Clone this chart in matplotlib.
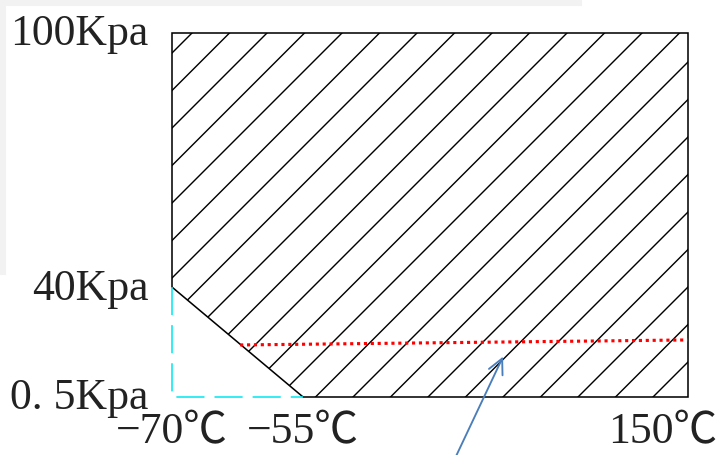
import numpy as np
import matplotlib.pyplot as plt
import matplotlib.transforms as mtransforms
from matplotlib.patches import Polygon, Rectangle

plt.rcParams['font.family'] = ['Liberation Serif', 'Noto Sans CJK JP', 'DejaVu Serif']
plt.rcParams['hatch.linewidth'] = 0.45
plt.rcParams['lines.scale_dashes'] = False

# schematic axes: tick values and their labels
temp_ticks = [-70, -55, 150]
temp_labels = ['\u221270\u2103', '\u221255\u2103', '150\u2103']
press_ticks = [0.5, 40, 100]
press_labels = ['0. 5Kpa', '40Kpa', '100Kpa']

# operating region boundary (temperature, pressure)
region_temp = [-70, 150, 150, -55, -70]
region_press = [100, 100, 0.5, 0.5, 40]

# cyan dashed corner (excluded region)
corner_temp = [-70, -70, -55]
corner_press = [40, 0.5, 0.5]

# red dotted level line
level_temp = [-62.2, 150]
level_press = [19.2, 21.0]

# arrow tip
arrow_temp = 51.5
arrow_press = 15.0

# where the ticks sit along each (non-linear) axis, as fractions
temp_frac = [0.0, 0.254, 1.0]
press_frac = [0.0, 0.302, 1.0]


def piecewise(vals, fracs):
    vals = np.asarray(vals, float)
    fracs = np.asarray(fracs, float)
    lo = (fracs[1] - fracs[0]) / (vals[1] - vals[0])
    hi = (fracs[-1] - fracs[-2]) / (vals[-1] - vals[-2])

    def fwd(v):
        v = np.asarray(v, float)
        out = np.interp(v, vals, fracs)
        out = np.where(v < vals[0], fracs[0] + (v - vals[0]) * lo, out)
        out = np.where(v > vals[-1], fracs[-1] + (v - vals[-1]) * hi, out)
        return out

    def inv(f):
        f = np.asarray(f, float)
        out = np.interp(f, fracs, vals)
        out = np.where(f < fracs[0], vals[0] + (f - fracs[0]) / lo, out)
        out = np.where(f > fracs[-1], vals[-1] + (f - fracs[-1]) / hi, out)
        return out

    return fwd, inv


dpi = 225
fig = plt.figure(figsize=(719 / dpi, 455 / dpi), dpi=dpi)
fig.patches.append(Rectangle((0, 1 - 4 / 455), 580 / 719, 4 / 455, transform=fig.transFigure,
                             color='#f2f2f2', zorder=0))
fig.patches.append(Rectangle((0, 1 - 273 / 455), 4 / 719, 273 / 455, transform=fig.transFigure,
                             color='#f2f2f2', zorder=0))

ax = fig.add_axes([172 / 719, 1 - 397 / 455, 516 / 719, 364 / 455])
ax.set_xscale('function', functions=piecewise(temp_ticks, temp_frac))
ax.set_yscale('function', functions=piecewise(press_ticks, press_frac))
ax.set_xlim(temp_ticks[0], temp_ticks[-1])
ax.set_ylim(press_ticks[0], press_ticks[-1])

region = Polygon(np.column_stack([region_temp, region_press]), closed=True, fill=False,
                 hatch='//', edgecolor='black', linewidth=0.5, clip_on=False, zorder=2)
ax.add_patch(region)

ax.plot(corner_temp, corner_press, color='#00e8f0', linewidth=0.5, dashes=(9, 3.2),
        clip_on=False, zorder=3)
ax.plot(level_temp, level_press, color='#ff0000', linewidth=1.0, dashes=(1, 1.2),
        clip_on=False, zorder=3)

ax.annotate('', xy=(arrow_temp, arrow_press), xycoords='data',
            xytext=(0.548, -0.17), textcoords='axes fraction',
            arrowprops=dict(arrowstyle='->', color='#4a7ebb', linewidth=0.6,
                            mutation_scale=12, shrinkA=0, shrinkB=0),
            annotation_clip=False, zorder=4)

for s in ax.spines.values():
    s.set_visible(False)

ax.set_xticks(temp_ticks)
ax.set_xticklabels(temp_labels)
ax.set_yticks(press_ticks)
ax.set_yticklabels(press_labels)
ax.tick_params(length=0, labelsize=14, colors='#222222')
ax.tick_params(axis='y', pad=7.5)
ax.tick_params(axis='x', pad=5)
ax.minorticks_off()

# nudge labels to where the reference puts them
up = mtransforms.ScaledTranslation(0, 3 / dpi, fig.dpi_scale_trans)
for lab in ax.get_yticklabels():
    lab.set_transform(lab.get_transform() + up)
last = ax.get_xticklabels()[-1]
last.set_transform(last.get_transform() + mtransforms.ScaledTranslation(-25 / dpi, 0, fig.dpi_scale_trans))

fig.savefig('out.png', dpi=dpi)
